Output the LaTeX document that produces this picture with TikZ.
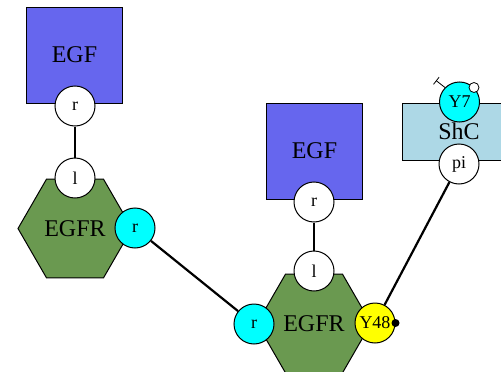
\documentclass[tikz,border=0pt]{standalone}
\usepackage{fontspec}
\setmainfont{Liberation Serif}
\usetikzlibrary{shapes.geometric,arrows.meta,calc}
\definecolor{egfblue}{RGB}{102,102,238}
\definecolor{hexgreen}{RGB}{106,153,80}
\definecolor{shcblue}{RGB}{173,216,230}
\definecolor{sitecyan}{RGB}{0,255,255}
\definecolor{siteyellow}{RGB}{255,255,0}
\begin{document}
\begin{tikzpicture}[x=1pt,y=-1pt,
  bigfont/.style={font=\fontsize{24}{24}\selectfont},
  egfbox/.style={draw=black, line width=1pt, fill=egfblue, minimum size=96pt, inner sep=0pt, bigfont},
  hexbox/.style={regular polygon, regular polygon sides=6, draw=black, line width=1pt, fill=hexgreen, minimum size=114pt, inner sep=0pt, bigfont},
  shcbox/.style={draw=black, line width=1pt, fill=shcblue, minimum width=114pt, minimum height=57pt, inner sep=0pt, bigfont},
  site/.style={circle, draw=black, line width=1pt, fill=white, minimum size=40pt, inner sep=0pt, font=\fontsize{18}{18}\selectfont},
  link/.style={draw=black, line width=2.2pt}]
\useasboundingbox (0,0) rectangle (501,372);

% shapes
\node[egfbox] (egf1) at (74.5,55) {EGF};
\node[hexbox] (egfr1) at (75,228.5) {EGFR};
\node[egfbox] (egf2) at (314.5,151) {EGF};
\node[hexbox] (egfr2) at (314,323.5) {EGFR};
\node[shcbox] (shc) at (459,131.5) {ShC};

% sites
\node[site] (egf1r) at (75,106) {r};
\node[site] (egfr1l) at (75,178) {l};
\node[site, fill=sitecyan] (egfr1r) at (135,228) {r};
\node[site] (egf2r) at (314,202) {r};
\node[site] (egfr2l) at (314,271) {l};
\node[site, fill=sitecyan] (egfr2r) at (254,324) {r};
\node[site, fill=siteyellow] (y48) at (375,323) {Y48};
\node[site, fill=sitecyan] (y7) at (459.5,102) {Y7};
\node[site] (pi) at (459,164) {pi};

% state markers
\node[circle, fill=black, minimum size=8pt, inner sep=0pt] (y48dot) at (y48.east) {};
\node[circle, draw=black, line width=0.8pt, fill=white, minimum size=10pt, inner sep=0pt] (y7mark) at (y7.45) {};
\coordinate (y7bar) at ($(y7.135)+(-9,-7)$);
\draw[line width=0.8pt, -{Bar[width=9pt,line width=0.8pt]}] (y7.135) -- (y7bar);

% links
\draw[link] (egf1r) -- (egfr1l);
\draw[link] (egf2r) -- (egfr2l);
\draw[link] (egfr1r) -- (egfr2r);
\draw[link] (pi) -- (y48);
\end{tikzpicture}
\end{document}
